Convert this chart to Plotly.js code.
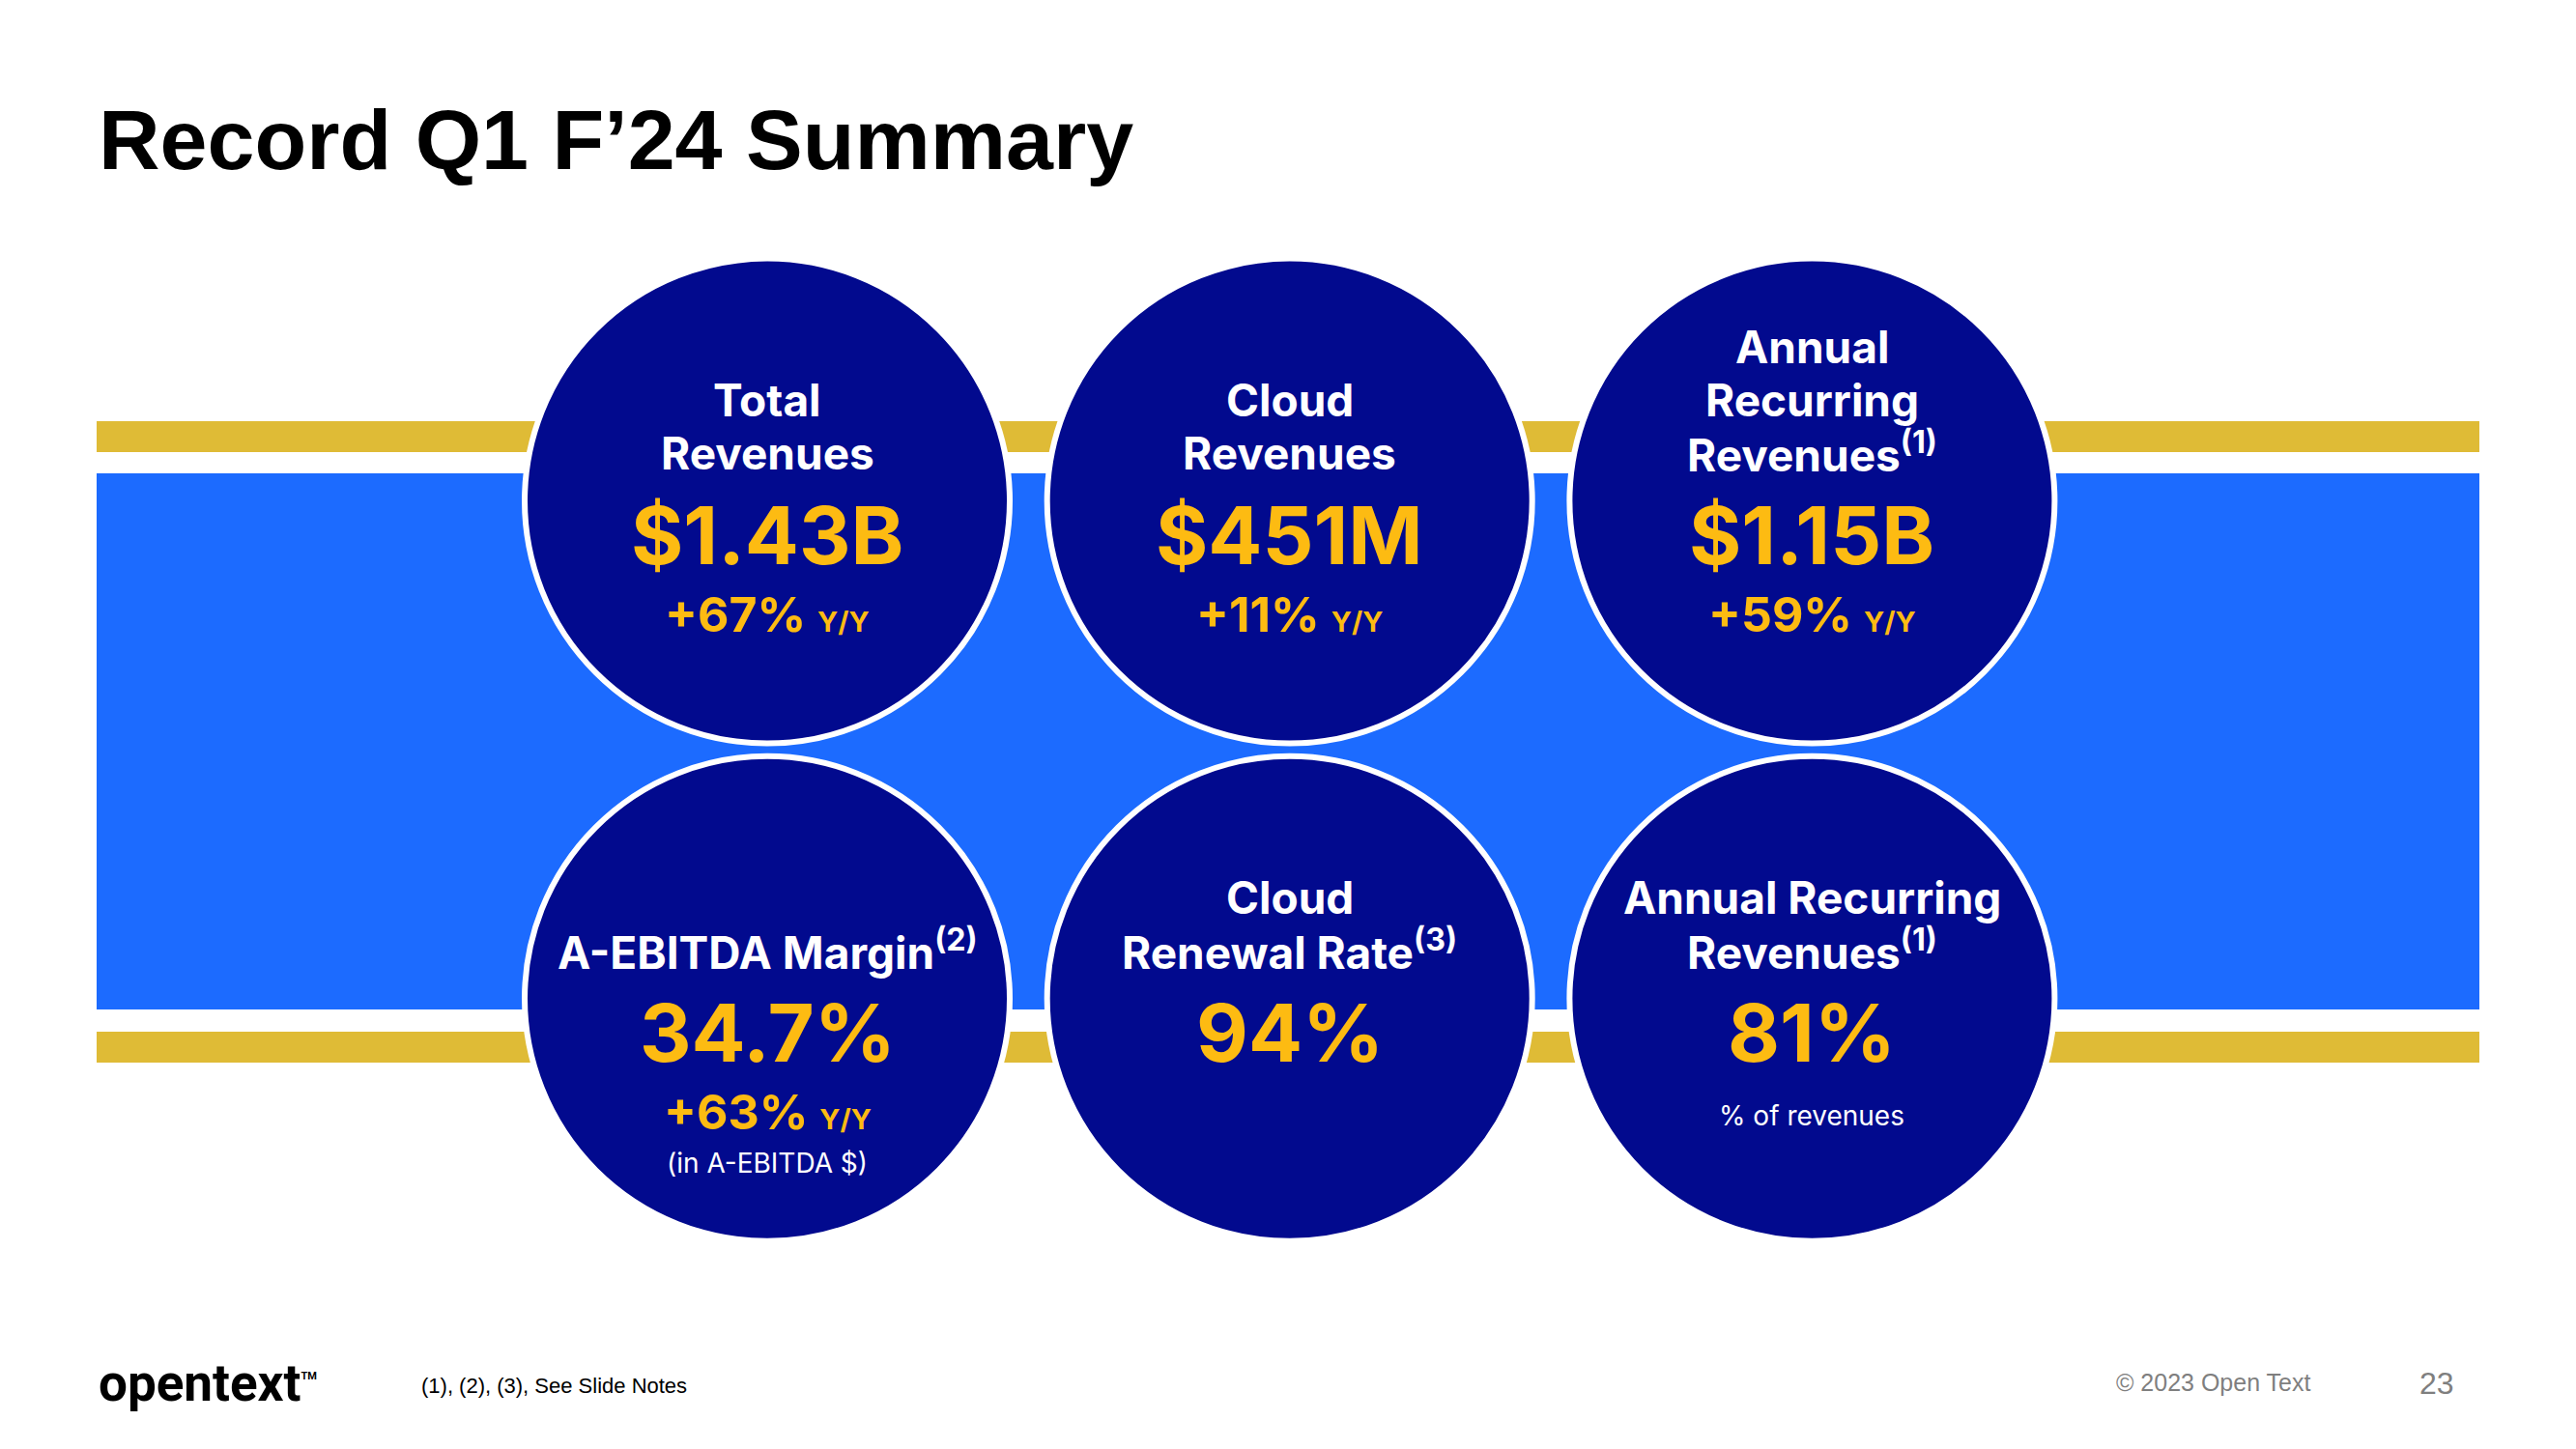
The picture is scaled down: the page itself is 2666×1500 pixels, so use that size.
<!DOCTYPE html>
<html>
<head>
<meta charset="utf-8">
<script src="https://cdn.plot.ly/plotly-3.0.1.min.js"></script>
<style>
  html, body { margin: 0; padding: 0; background: #ffffff; }
  #chart { width: 2666px; height: 1500px; }
</style>
</head>
<body>
<div id="chart"></div>
<script>
// ---------------- DATA ----------------
const slideTitle = "Record Q1 F\u201924 Summary";
const metricLabels = [
  "Total<br>Revenues",
  "Cloud<br>Revenues",
  "Annual<br>Recurring<br>Revenues<sup>(1)</sup>",
  "A-EBITDA Margin<sup>(2)</sup>",
  "Cloud<br>Renewal Rate<sup>(3)</sup>",
  "Annual Recurring<br>Revenues<sup>(1)</sup>"
];
const metricValues = [1.43, 451, 1.15, 34.7, 94, 81];
const valuePrefix  = ["$", "$", "$", "", "", ""];
const valueSuffix  = ["B", "M", "B", "%", "%", "%"];
const growthPct    = [67, 11, 59, 63, null, null];
const growthUnit   = "Y/Y";
const metricNotes  = ["", "", "", "(in A-EBITDA $)", "", "% of revenues"];
const footnoteText = "(1), (2), (3), See Slide Notes";
const logoText     = "opentext";
const copyrightText = "\u00A9 2023 Open Text";
const pageNumber   = "23";

// ---------------- STYLE ----------------
const NAVY = "#020A8E";
const BLUE = "#1C6BFF";
const GOLD = "#DFBB36";
const YELLOW = "#FDBB12";
const CIRCLE_FONT = "Inter, Roboto, 'Noto Sans', sans-serif";
const ARIAL = "'Liberation Sans', Arial, sans-serif";
const W = 2666, H = 1500;

const cols = metricLabels.map((_, i) => i % 3);
const rows = metricLabels.map((_, i) => Math.floor(i / 3));

const circleTrace = {
  type: "scatter",
  mode: "markers",
  x: cols,
  y: rows,
  marker: {
    size: 502,
    color: NAVY,
    line: { color: "#ffffff", width: 6 }
  },
  hoverinfo: "skip",
  showlegend: false,
  cliponaxis: false
};

const LABEL_LAST = -50, LABEL_STEP = 55;
const VALUE_OFF = 35, GROWTH_OFF = 117, NOTE_OFF_AFTER_GROWTH = 170, NOTE_OFF_ALONE = 121;

const annotations = [];
metricLabels.forEach((lab, i) => {
  const x = cols[i], y = rows[i];
  const lines = lab.split("<br>");
  lines.forEach((ln, k) => {
    const off = LABEL_LAST - (lines.length - 1 - k) * LABEL_STEP;
    annotations.push({
      x, y, xref: "x", yref: "y", text: ln, showarrow: false,
      xanchor: "center", yanchor: "middle", yshift: -off,
      font: { family: CIRCLE_FONT, size: 46, color: "#ffffff", weight: 700 }
    });
  });
  annotations.push({
    x, y, xref: "x", yref: "y",
    text: valuePrefix[i] + String(metricValues[i]) + valueSuffix[i],
    showarrow: false, xanchor: "center", yanchor: "middle", yshift: -VALUE_OFF,
    font: { family: CIRCLE_FONT, size: 83, color: YELLOW, weight: 700 }
  });
  if (growthPct[i] !== null) {
    annotations.push({
      x, y, xref: "x", yref: "y",
      text: "+" + growthPct[i] + "% <span style=\"font-size:29px\">" + growthUnit + "</span>",
      showarrow: false, xanchor: "center", yanchor: "middle", yshift: -GROWTH_OFF,
      font: { family: CIRCLE_FONT, size: 50, color: YELLOW, weight: 700 }
    });
  }
  if (metricNotes[i]) {
    annotations.push({
      x, y, xref: "x", yref: "y", text: metricNotes[i], showarrow: false,
      xanchor: "center", yanchor: "middle",
      yshift: -(growthPct[i] !== null ? NOTE_OFF_AFTER_GROWTH : NOTE_OFF_ALONE),
      font: { family: CIRCLE_FONT, size: 28, color: "#ffffff", weight: 400 }
    });
  }
});

// footer
annotations.push({
  xref: "paper", yref: "paper", x: 100 / W, y: 1 - 1432 / H,
  xanchor: "left", yanchor: "middle", showarrow: false,
  text: logoText + "<sup><span style=\"font-size:11px\">TM</span></sup>",
  font: { family: "Roboto, 'Liberation Sans', sans-serif", size: 53, color: "#000000", weight: 700 }
});
annotations.push({
  xref: "paper", yref: "paper", x: 434 / W, y: 1 - 1434 / H,
  xanchor: "left", yanchor: "middle", showarrow: false, text: footnoteText,
  font: { family: ARIAL, size: 22, color: "#000000" }
});
annotations.push({
  xref: "paper", yref: "paper", x: 2188 / W, y: 1 - 1431 / H,
  xanchor: "left", yanchor: "middle", showarrow: false, text: copyrightText,
  font: { family: ARIAL, size: 25, color: "#7F7F7F" }
});
annotations.push({
  xref: "paper", yref: "paper", x: 2542 / W, y: 1 - 1432 / H,
  xanchor: "right", yanchor: "middle", showarrow: false, text: pageNumber,
  font: { family: ARIAL, size: 32, color: "#7F7F7F" }
});

const band = (y0px, y1px, color) => ({
  type: "rect", xref: "paper", yref: "paper", layer: "below",
  x0: 100 / W, x1: 2566 / W, y0: 1 - y1px / H, y1: 1 - y0px / H,
  fillcolor: color, line: { width: 0 }
});

const layout = {
  width: W, height: H,
  margin: { l: 0, r: 0, t: 0, b: 0, pad: 0 },
  paper_bgcolor: "#ffffff",
  plot_bgcolor: "rgba(0,0,0,0)",
  showlegend: false,
  hovermode: false,
  title: {
    text: "<b>" + slideTitle + "</b>",
    x: 102 / W, xanchor: "left", xref: "container",
    y: 1 - 144 / H, yanchor: "middle", yref: "container",
    font: { family: ARIAL, size: 88, color: "#000000", weight: 700 }
  },
  xaxis: { range: [-1.4685, 3.4622], visible: false, fixedrange: true },
  yaxis: { range: [1.9049, -1.0066], visible: false, fixedrange: true },
  shapes: [
    band(436, 468, GOLD),
    band(490, 1045, BLUE),
    band(1068, 1100, GOLD)
  ],
  annotations
};

Plotly.newPlot("chart", [circleTrace], layout, { staticPlot: true, displayModeBar: false });
</script>
</body>
</html>
